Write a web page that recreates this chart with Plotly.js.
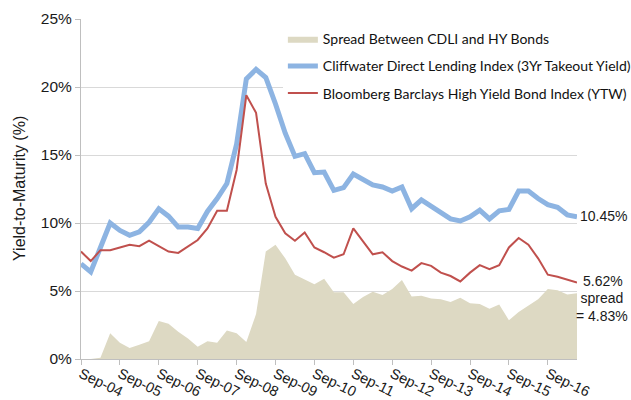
<!DOCTYPE html>
<html>
<head>
<meta charset="utf-8">
<script src="https://cdn.plot.ly/plotly-3.0.1.min.js"></script>
<style>
  html, body { margin: 0; padding: 0; background: #ffffff; }
  #chart { width: 631px; height: 400px; }
</style>
</head>
<body>
<div id="chart"></div>
<script>
// Quarterly observation labels (Sep-04 ... Jun-17)
const quarters = [
  "Sep-04","Dec-04","Mar-05","Jun-05","Sep-05","Dec-05","Mar-06","Jun-06",
  "Sep-06","Dec-06","Mar-07","Jun-07","Sep-07","Dec-07","Mar-08","Jun-08",
  "Sep-08","Dec-08","Mar-09","Jun-09","Sep-09","Dec-09","Mar-10","Jun-10",
  "Sep-10","Dec-10","Mar-11","Jun-11","Sep-11","Dec-11","Mar-12","Jun-12",
  "Sep-12","Dec-12","Mar-13","Jun-13","Sep-13","Dec-13","Mar-14","Jun-14",
  "Sep-14","Dec-14","Mar-15","Jun-15","Sep-15","Dec-15","Mar-16","Jun-16",
  "Sep-16","Dec-16","Mar-17","Jun-17"
];

// Tick labels shown on the x axis
const tickLabels = ["Sep-04","Sep-05","Sep-06","Sep-07","Sep-08","Sep-09","Sep-10",
                    "Sep-11","Sep-12","Sep-13","Sep-14","Sep-15","Sep-16"];

// Y axis ticks
const yTickVals = [0, 5, 10, 15, 20, 25];
const yTickText = ["0%", "5%", "10%", "15%", "20%", "25%"];

// Cliffwater Direct Lending Index (3Yr Takeout Yield), %
const cdli = [
  7.0, 6.4, 8.2, 10.0, 9.45, 9.1, 9.35, 10.05,
  11.05, 10.5, 9.7, 9.7, 9.6, 10.85, 11.8, 12.9,
  15.8, 20.6, 21.3, 20.7, 18.75, 16.6, 14.9, 15.1,
  13.7, 13.75, 12.4, 12.6, 13.6, 13.25, 12.8, 12.65,
  12.35, 12.65, 11.05, 11.7, 11.2, 10.75, 10.3, 10.15,
  10.45, 10.95, 10.3, 10.9, 11.0, 12.35, 12.35, 11.8,
  11.35, 11.15, 10.6, 10.45
];

// Bloomberg Barclays High Yield Bond Index (YTW), %
const hy = [
  7.9, 7.2, 8.0, 8.0, 8.2, 8.4, 8.3, 8.7,
  8.3, 7.9, 7.8, 8.25, 8.75, 9.6, 10.9, 10.9,
  13.9, 19.4, 18.1, 12.9, 10.45, 9.25, 8.7, 9.3,
  8.2, 7.85, 7.45, 7.7, 9.6, 8.65, 7.7, 7.85,
  7.2, 6.8, 6.5, 7.05, 6.85, 6.35, 6.1, 5.7,
  6.35, 6.9, 6.6, 6.9, 8.2, 8.9, 8.4, 7.4,
  6.2, 6.05, 5.85, 5.62
];

// Spread between CDLI and HY bonds, %
const spread = [
  0, 0, 0.1, 1.9, 1.2, 0.8, 1.05, 1.3,
  2.8, 2.6, 2.0, 1.5, 0.9, 1.3, 1.2, 2.1,
  1.9, 1.25, 3.3, 7.9, 8.4, 7.4, 6.2, 5.85,
  5.5, 5.9, 4.9, 4.9, 4.05, 4.55, 4.95, 4.7,
  5.15, 5.8, 4.6, 4.65, 4.45, 4.4, 4.2, 4.5,
  4.1, 4.05, 3.7, 4.0, 2.85, 3.45, 3.95, 4.4,
  5.15, 5.05, 4.75, 4.83
];

const seriesNames = [
  "Spread Between CDLI and HY Bonds",
  "Cliffwater Direct Lending Index (3Yr Takeout Yield)",
  "Bloomberg Barclays High Yield Bond Index (YTW)"
];

const arial = "Liberation Sans, Arial, Helvetica, sans-serif";
const tickFont = { family: arial, size: 14.5, color: "#1a1a1a" };
const noteFont = { family: arial, size: 14, color: "#1a1a1a" };

const traces = [
  {
    x: quarters, y: spread, name: seriesNames[0], type: "scatter", mode: "lines",
    fill: "tozeroy", fillcolor: "#ddd9c3", line: { width: 0, color: "#ddd9c3" },
    legendgroup: "a", hoverinfo: "skip"
  },
  {
    x: quarters, y: cdli, name: seriesNames[1], type: "scatter", mode: "lines",
    line: { color: "#8db4e2", width: 5 }, legendgroup: "b"
  },
  {
    x: quarters, y: hy, name: seriesNames[2], type: "scatter", mode: "lines",
    line: { color: "#c0504d", width: 2 }, legendgroup: "c"
  }
];

const layout = {
  width: 631, height: 400,
  margin: { l: 81, r: 54, t: 19, b: 41, autoexpand: false },
  paper_bgcolor: "#ffffff", plot_bgcolor: "#ffffff",
  showlegend: true,
  legend: {
    x: 0.407, xanchor: "left", y: 0.988, yanchor: "top",
    bgcolor: "#ffffff", borderwidth: 0,
    font: { family: "Lato, sans-serif", size: 14, color: "#111111" },
    tracegroupgap: 6, traceorder: "grouped"
  },
  xaxis: {
    type: "category",
    range: [0, quarters.length - 1],
    tickmode: "array", tickvals: tickLabels, ticktext: tickLabels,
    tickangle: 26, tickfont: tickFont, ticklabelstandoff: -5,
    ticks: "outside", ticklen: 5, tickcolor: "#bfbfbf",
    showgrid: false, zeroline: false,
    showline: true, linecolor: "#bfbfbf", linewidth: 1
  },
  yaxis: {
    range: [0, 25],
    tickmode: "array", tickvals: yTickVals, ticktext: yTickText,
    tickfont: { family: arial, size: 15.5, color: "#1a1a1a" },
    ticks: "outside", ticklen: 5, tickcolor: "#bfbfbf",
    showgrid: true, gridcolor: "#d9d9d9", gridwidth: 1,
    zeroline: false,
    showline: true, linecolor: "#bfbfbf", linewidth: 1
  },
  annotations: [
    { x: -0.125, y: 0.5, xref: "paper", yref: "paper", text: "Yield-to-Maturity (%)",
      textangle: -90, showarrow: false, xanchor: "center", yanchor: "middle",
      font: { family: arial, size: 16, color: "#1a1a1a" } },
    { x: quarters[quarters.length - 1], y: cdli[cdli.length - 1], xref: "x", yref: "y",
      text: "10.45%", showarrow: false, xanchor: "left", yanchor: "middle", xshift: 1, yshift: 1, font: noteFont },
    { x: quarters[quarters.length - 1], y: hy[hy.length - 1], xref: "x", yref: "y",
      text: "5.62%", showarrow: false, xanchor: "left", yanchor: "middle", xshift: 4, yshift: 2, font: noteFont },
    { x: 1.05, y: 3.85, xref: "paper", yref: "y",
      text: "spread<br>= 4.83%", showarrow: false, xanchor: "center", yanchor: "middle", align: "center", font: noteFont }
  ]
};

Plotly.newPlot("chart", traces, layout, { displayModeBar: false, staticPlot: true });
</script>
</body>
</html>
